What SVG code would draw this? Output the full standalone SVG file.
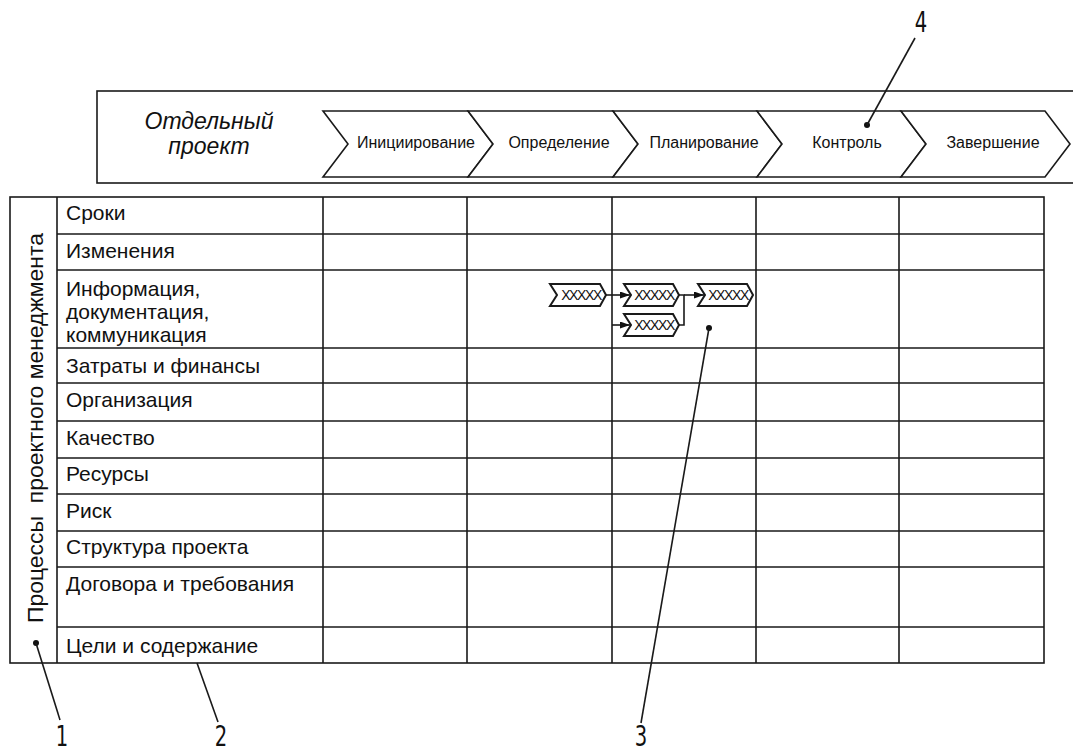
<svg xmlns="http://www.w3.org/2000/svg" width="1073" height="752" viewBox="0 0 1073 752">
<style>
.ln{stroke:#1a1a1a;stroke-width:1.6;fill:none}
.ch{stroke:#1a1a1a;stroke-width:1.6;fill:#fff}
.sch{stroke:#1a1a1a;stroke-width:2;fill:#fff}
.t{font-family:"Liberation Sans",Arial,sans-serif;fill:#111}
.lbl{font-family:"Liberation Sans",Arial,sans-serif;font-size:21px;fill:#111}
.ph{font-family:"Liberation Sans",Arial,sans-serif;font-size:16px;fill:#111;text-anchor:middle}
.xx{font-family:"Liberation Sans",Arial,sans-serif;font-size:14px;fill:#111;text-anchor:middle;letter-spacing:-1.4px}
.num{font-family:"DejaVu Sans","Liberation Sans",sans-serif;font-size:28px;fill:#111;text-anchor:middle}
</style>
<defs>
<marker id="ah" viewBox="0 0 10 7" refX="10" refY="3.5" markerWidth="10" markerHeight="7" orient="auto" markerUnits="userSpaceOnUse">
<path d="M0,0 L10,3.5 L0,7 z" fill="#111"/>
</marker>
</defs>
<rect width="1073" height="752" fill="#fff"/>

<g id="header">
<rect x="97" y="91" width="990" height="92" class="ln"/>
<text class="t" x="209" y="129" font-size="23" font-style="italic" text-anchor="middle">Отдельный</text>
<text class="t" x="209" y="154" font-size="23" font-style="italic" text-anchor="middle">проект</text>
</g>

<g id="phase-1">
<polygon class="ch" points="323,111 468,111 493,144 468,177 323,177 348,144"/>
<text class="ph" x="416" y="148">Инициирование</text>
</g>
<g id="phase-2">
<polygon class="ch" points="468,111 613,111 638,144 613,177 468,177 493,144"/>
<text class="ph" x="559" y="148">Определение</text>
</g>
<g id="phase-3">
<polygon class="ch" points="613,111 757,111 782,144 757,177 613,177 638,144"/>
<text class="ph" x="704" y="148">Планирование</text>
</g>
<g id="phase-4">
<polygon class="ch" points="757,111 901,111 926,144 901,177 757,177 782,144"/>
<text class="ph" x="847" y="148">Контроль</text>
</g>
<g id="phase-5">
<polygon class="ch" points="901,111 1045,111 1070,144 1045,177 901,177 926,144"/>
<text class="ph" x="993" y="148">Завершение</text>
</g>

<g id="table">
<rect x="10" y="197" width="1034" height="466" class="ln"/>
<path class="ln" d="M57,197V663 M323,197V663 M467,197V663 M612,197V663 M756,197V663 M899,197V663"/>
<path class="ln" d="M57,234H1044 M57,270H1044 M57,348H1044 M57,383H1044 M57,421H1044 M57,458H1044 M57,494H1044 M57,531H1044 M57,567H1044 M57,627H1044"/>
<text class="t" font-size="22" xml:space="preserve" textLength="390" lengthAdjust="spacingAndGlyphs" transform="translate(43,623) rotate(-90)">Процессы  проектного менеджмента</text>
</g>

<g id="rows">
<text class="lbl" x="66" y="220">Сроки</text>
<text class="lbl" x="66" y="258">Изменения</text>
<text class="lbl" x="66" y="296">Информация,</text>
<text class="lbl" x="66" y="319">документация,</text>
<text class="lbl" x="66" y="342">коммуникация</text>
<text class="lbl" x="66" y="373">Затраты и финансы</text>
<text class="lbl" x="66" y="407">Организация</text>
<text class="lbl" x="66" y="445">Качество</text>
<text class="lbl" x="66" y="481">Ресурсы</text>
<text class="lbl" x="66" y="518">Риск</text>
<text class="lbl" x="66" y="554">Структура проекта</text>
<text class="lbl" x="66" y="591">Договора и требования</text>
<text class="lbl" x="66" y="653">Цели и содержание</text>
</g>

<g id="task-a">
<polygon class="sch" points="550,284 600,284 606,295 600,306 550,306 557,295"/>
<text class="xx" x="581" y="300">XXXXX</text>
</g>
<g id="task-b">
<polygon class="sch" points="624,284 673,284 679,295 673,306 624,306 631,295"/>
<text class="xx" x="654" y="300">XXXXX</text>
</g>
<g id="task-c">
<polygon class="sch" points="624,314 673,314 679,325 673,336 624,336 631,325"/>
<text class="xx" x="654" y="330">XXXXX</text>
</g>
<g id="task-d">
<polygon class="sch" points="698,284 747,284 753,295 747,306 698,306 705,295"/>
<text class="xx" x="728" y="300">XXXXX</text>
</g>

<g id="connectors">
<path class="ln" d="M606,295H630" marker-end="url(#ah)"/>
<path class="ln" d="M612,325H630" marker-end="url(#ah)"/>
<path class="ln" d="M679,295H684V325H679"/>
<path class="ln" d="M684,295H704" marker-end="url(#ah)"/>
</g>

<g id="callouts">
<circle cx="36" cy="643" r="3" fill="#111"/>
<path class="ln" d="M36,643L60,720"/>
<path class="ln" d="M197,663L218,722"/>
<circle cx="709" cy="328" r="3" fill="#111"/>
<path class="ln" d="M709,328L641,723"/>
<circle cx="867" cy="125" r="3" fill="#111"/>
<path class="ln" d="M867,125L915,38"/>
<text class="num" transform="translate(62,746) scale(0.7,1)">1</text>
<text class="num" transform="translate(221,746) scale(0.7,1)">2</text>
<text class="num" transform="translate(641,746) scale(0.7,1)">3</text>
<text class="num" transform="translate(921,32) scale(0.7,1)">4</text>
</g>
</svg>
